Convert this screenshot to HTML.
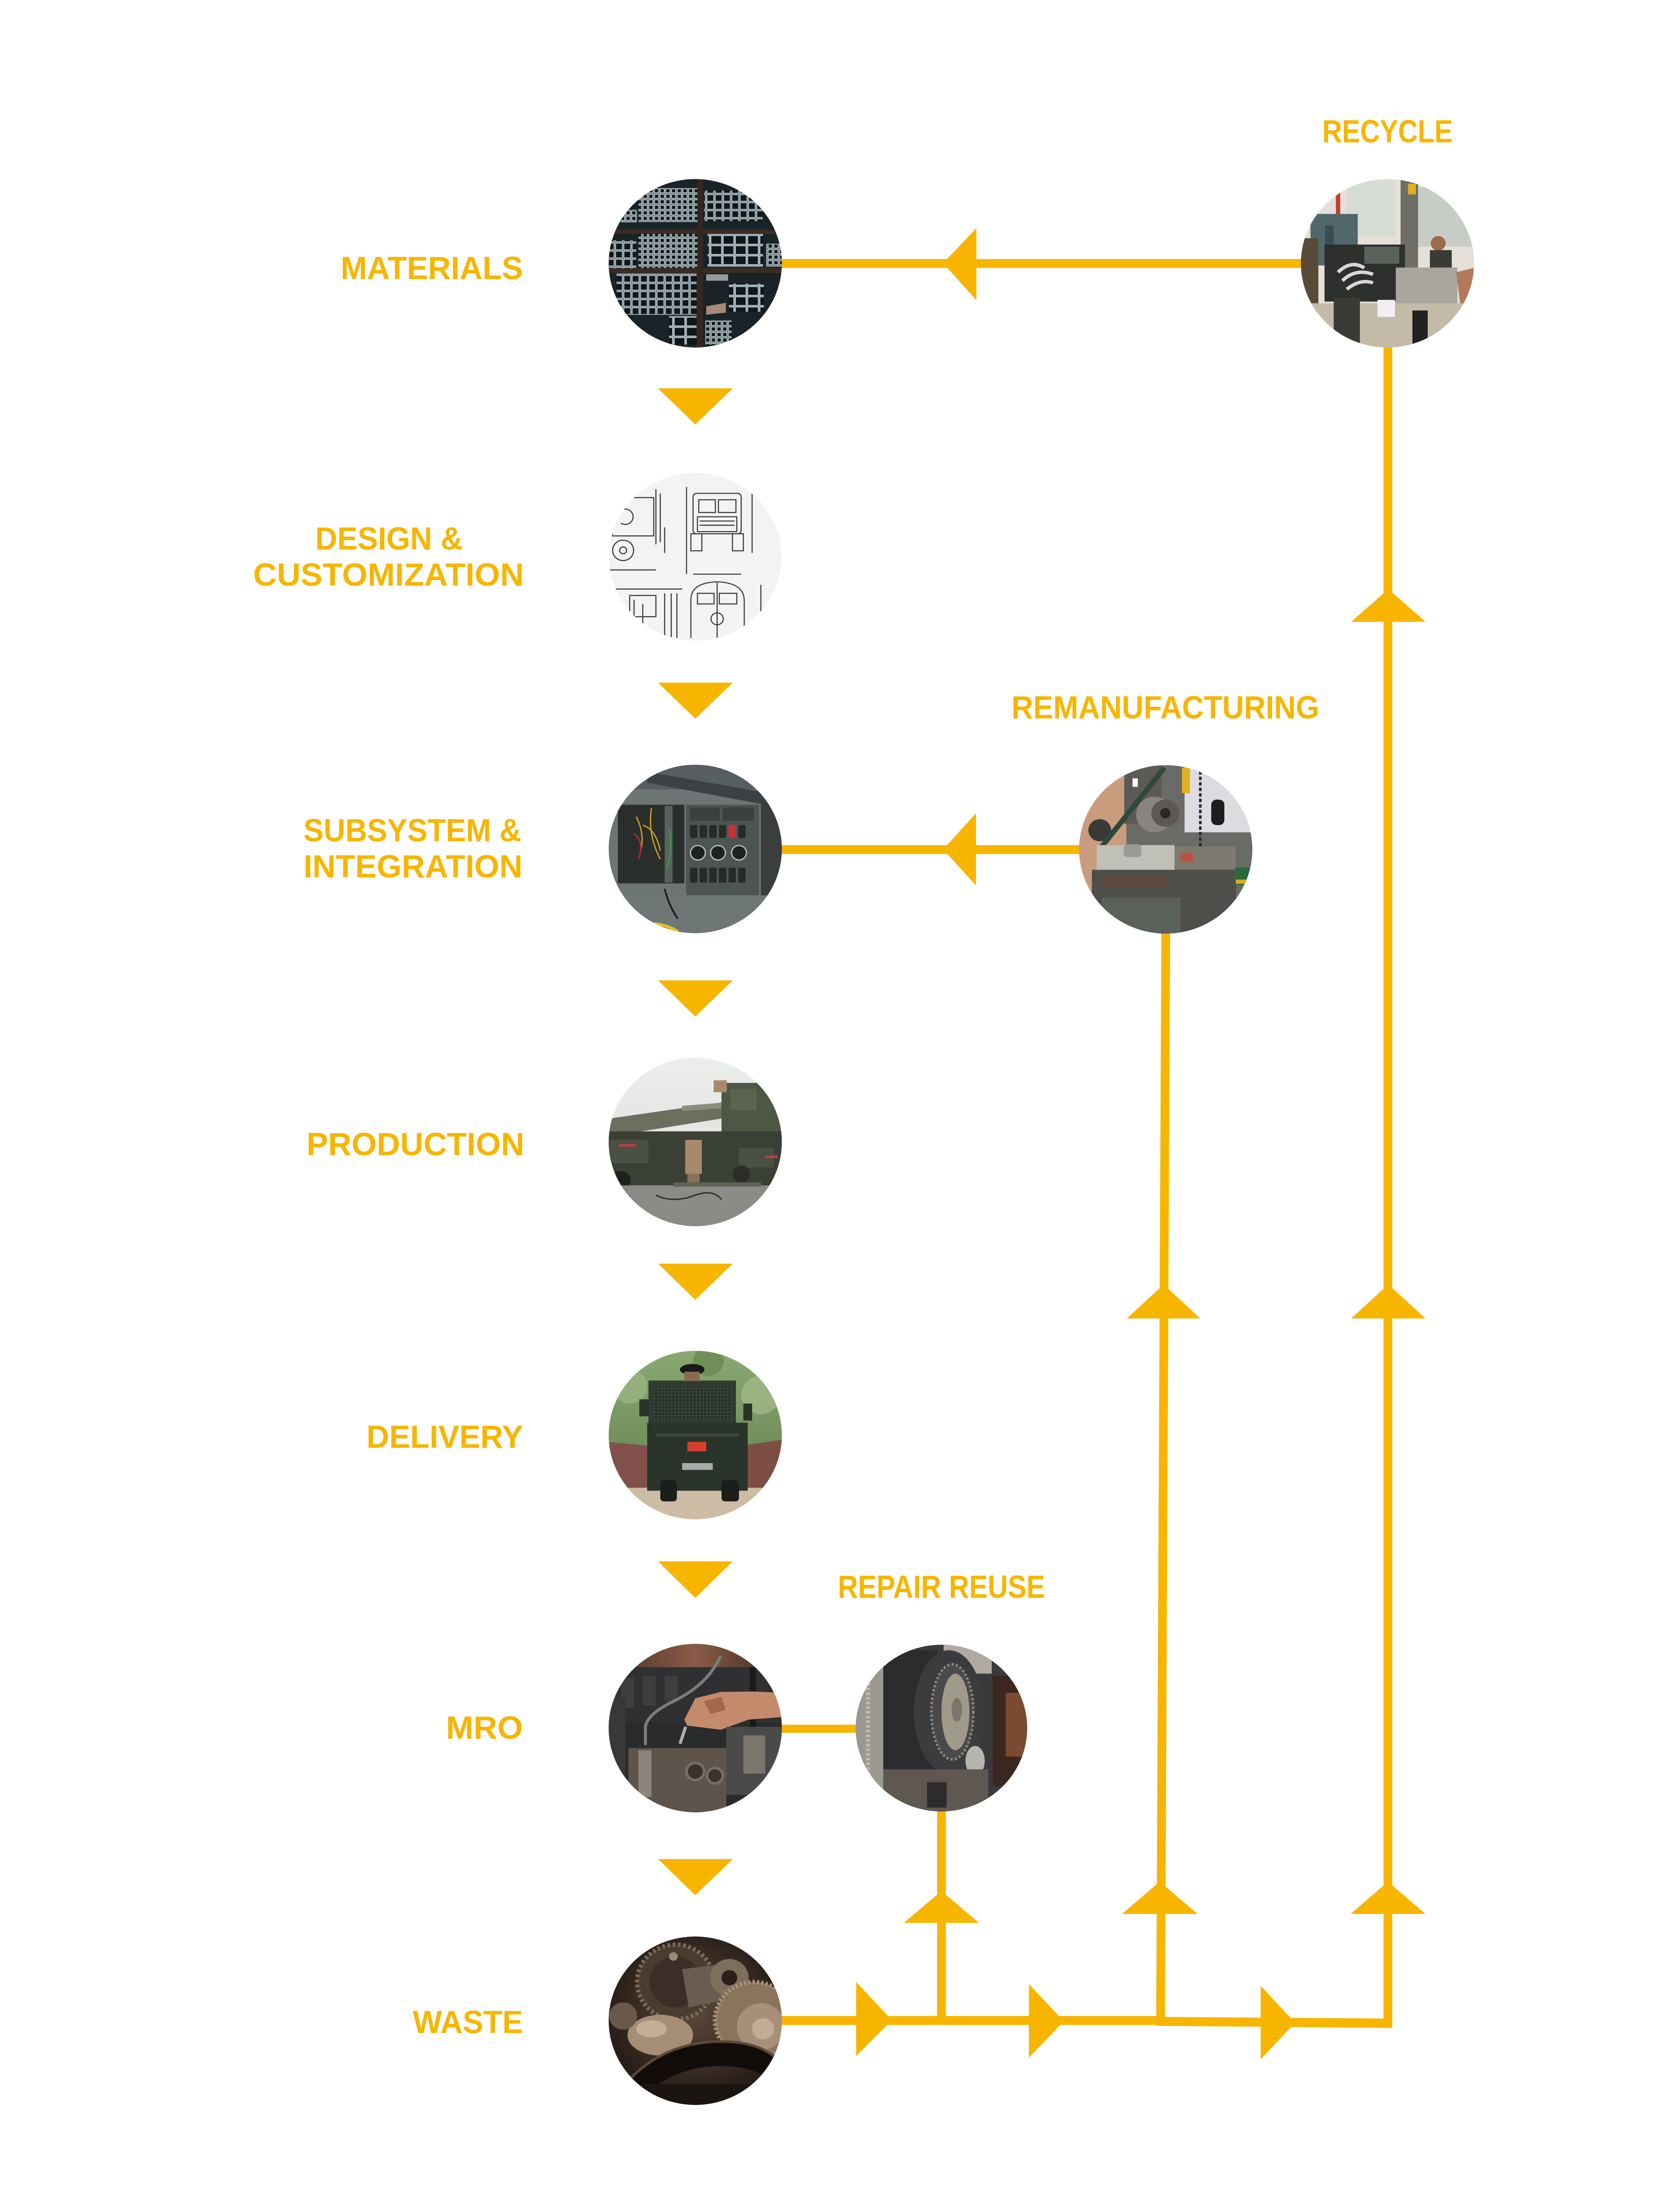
<!DOCTYPE html>
<html>
<head>
<meta charset="utf-8">
<style>
html,body{margin:0;padding:0;background:#fff;width:100%;height:100%;overflow:hidden;}
svg{display:block;position:fixed;left:0;top:0;width:100vw;height:100vh;}
.lb{font-family:"Liberation Sans",Arial,sans-serif;font-weight:700;font-size:75px;fill:#F8B500;}
</style>
</head>
<body>
<svg viewBox="0 0 3842 5142" preserveAspectRatio="none" xmlns="http://www.w3.org/2000/svg">
<defs>
  <clipPath id="k1"><circle cx="1590" cy="619" r="198"/></clipPath>
  <clipPath id="k2"><circle cx="1590" cy="1309" r="197"/></clipPath>
  <clipPath id="k3"><circle cx="1590" cy="1996" r="198"/></clipPath>
  <clipPath id="k4"><circle cx="1590" cy="2685" r="198"/></clipPath>
  <clipPath id="k5"><circle cx="1590" cy="3374" r="198"/></clipPath>
  <clipPath id="k6"><circle cx="1590" cy="4063" r="198"/></clipPath>
  <clipPath id="k7"><circle cx="1590" cy="4751" r="198"/></clipPath>
  <clipPath id="k8"><circle cx="3173" cy="619" r="198"/></clipPath>
  <clipPath id="k9"><circle cx="2666" cy="1997" r="198"/></clipPath>
  <clipPath id="k10"><circle cx="2153" cy="4063" r="196"/></clipPath>

  <pattern id="pS" width="13" height="13" patternUnits="userSpaceOnUse">
    <rect width="13" height="13" fill="#12191c"/>
    <rect x="1.5" y="1.5" width="10" height="10" fill="none" stroke="#bccdd2" stroke-width="2.2"/>
  </pattern>
  <pattern id="pM" width="19" height="19" patternUnits="userSpaceOnUse">
    <rect width="19" height="19" fill="#11181b"/>
    <rect x="1.5" y="1.5" width="16" height="16" fill="none" stroke="#b0c2c8" stroke-width="2.4"/>
  </pattern>
  <pattern id="pL" width="28" height="24" patternUnits="userSpaceOnUse">
    <rect width="28" height="24" fill="#10171a"/>
    <rect x="1.5" y="1.5" width="25" height="21" fill="none" stroke="#b6c8ce" stroke-width="2.6"/>
  </pattern>
  <pattern id="pMesh" width="8" height="8" patternUnits="userSpaceOnUse">
    <rect width="8" height="8" fill="#263026"/>
    <path d="M0 0H8M0 0V8" stroke="#55625a" stroke-width="1.5"/>
  </pattern>
  <radialGradient id="gW" cx="50%" cy="45%" r="60%">
    <stop offset="0" stop-color="#5a4838"/>
    <stop offset="1" stop-color="#1e1612"/>
  </radialGradient>
  <linearGradient id="gSky" x1="0" y1="0" x2="0" y2="1">
    <stop offset="0" stop-color="#eceeec"/>
    <stop offset="1" stop-color="#d8dad6"/>
  </linearGradient>
  <linearGradient id="gFol" x1="0" y1="0" x2="0" y2="1">
    <stop offset="0" stop-color="#8aa872"/>
    <stop offset="1" stop-color="#5c7c4a"/>
  </linearGradient>
  <linearGradient id="gCop" x1="0" y1="0" x2="1" y2="0">
    <stop offset="0" stop-color="#5a3a2e"/>
    <stop offset="0.5" stop-color="#8a5c48"/>
    <stop offset="1" stop-color="#4a3228"/>
  </linearGradient>
</defs>

<rect width="3842" height="5142" fill="#ffffff"/>

<!-- ================= CONNECTORS ================= -->
<g fill="#F8B500">
  <rect x="1785" y="609" width="1193" height="21"/>
  <polygon points="2157,619 2233,536 2233,706"/>
  <rect x="1785" y="1987" width="690" height="21"/>
  <polygon points="2157,1997 2232,1912 2232,2082"/>
  <rect x="1785" y="4055" width="176" height="19"/>

  <rect x="3164" y="812" width="20" height="3956"/>
  <polygon points="3175,1385 3090,1462 3260,1462"/>
  <polygon points="3175,3020 3090,3100 3260,3100"/>
  <polygon points="3174,4424 3089,4500 3260,4500"/>

  <polygon points="2656,2190 2676,2190 2664,4762 2644,4762"/>
  <polygon points="2661,3020 2577,3100 2745,3100"/>
  <polygon points="2652,4424 2566,4500 2739,4500"/>

  <rect x="2143" y="4255" width="20" height="497"/>
  <polygon points="2153,4446 2067,4521 2239,4521"/>

  <rect x="1785" y="4740" width="869" height="21"/>
  <polygon points="2644,4742 3184,4746 3184,4768 2644,4763"/>
  <polygon points="1958,4660 2040,4750 1958,4834"/>
  <polygon points="2353,4665 2433,4752 2353,4838"/>
  <polygon points="2883,4669 2962,4756 2883,4842"/>

  <polygon points="1505,913 1676,913 1590,998"/>
  <polygon points="1505,1605 1676,1605 1590,1690"/>
  <polygon points="1505,2305 1676,2305 1590,2390"/>
  <polygon points="1505,2971 1676,2971 1590,3056"/>
  <polygon points="1505,3671 1676,3671 1590,3757"/>
  <polygon points="1505,4371 1676,4371 1590,4456"/>
</g>

<!-- ================= LABELS ================= -->
<text class="lb" x="3024" y="335" textLength="298" lengthAdjust="spacingAndGlyphs">RECYCLE</text>
<text class="lb" x="779" y="656" textLength="417" lengthAdjust="spacingAndGlyphs">MATERIALS</text>
<text class="lb" x="721" y="1292" textLength="337" lengthAdjust="spacingAndGlyphs">DESIGN &amp;</text>
<text class="lb" x="579" y="1377" textLength="619" lengthAdjust="spacingAndGlyphs">CUSTOMIZATION</text>
<text class="lb" x="2313" y="1689" textLength="704" lengthAdjust="spacingAndGlyphs">REMANUFACTURING</text>
<text class="lb" x="694" y="1978" textLength="498" lengthAdjust="spacingAndGlyphs">SUBSYSTEM &amp;</text>
<text class="lb" x="694" y="2063" textLength="501" lengthAdjust="spacingAndGlyphs">INTEGRATION</text>
<text class="lb" x="701" y="2716" textLength="498" lengthAdjust="spacingAndGlyphs">PRODUCTION</text>
<text class="lb" x="838" y="3404" textLength="358" lengthAdjust="spacingAndGlyphs">DELIVERY</text>
<text class="lb" x="1916" y="3757" textLength="474" lengthAdjust="spacingAndGlyphs">REPAIR REUSE</text>
<text class="lb" x="1020" y="4088" textLength="176" lengthAdjust="spacingAndGlyphs">MRO</text>
<text class="lb" x="944" y="4780" textLength="252" lengthAdjust="spacingAndGlyphs">WASTE</text>

<!-- ================= 1 MATERIALS ================= -->
<g clip-path="url(#k1)">
  <rect x="1390" y="419" width="400" height="400" fill="#1a2327"/>
  <rect x="1390" y="540" width="400" height="10" fill="#3a2c24"/>
  <rect x="1390" y="630" width="400" height="12" fill="#3a2c24"/>
  <rect x="1594" y="419" width="14" height="400" fill="#33271f"/>
  <rect x="1460" y="442" width="135" height="80" fill="url(#pS)"/>
  <rect x="1610" y="448" width="134" height="72" fill="url(#pM)"/>
  <rect x="1420" y="493" width="37" height="30" fill="url(#pS)"/>
  <rect x="1460" y="550" width="135" height="80" fill="url(#pS)"/>
  <rect x="1393" y="565" width="62" height="66" fill="url(#pM)"/>
  <rect x="1618" y="550" width="127" height="77" fill="url(#pL)"/>
  <rect x="1752" y="573" width="36" height="54" fill="url(#pS)"/>
  <rect x="1410" y="643" width="183" height="97" fill="url(#pM)"/>
  <rect x="1667" y="667" width="80" height="66" fill="url(#pL)"/>
  <rect x="1530" y="743" width="63" height="67" fill="url(#pL)"/>
  <rect x="1613" y="753" width="60" height="57" fill="url(#pS)"/>
  <rect x="1615" y="645" width="50" height="15" fill="#c8d0d0" opacity="0.7"/>
  <polygon points="1615,720 1660,712 1660,735 1615,740" fill="#a88878"/>
</g>

<!-- ================= 2 DESIGN ================= -->
<g clip-path="url(#k2)">
  <rect x="1390" y="1110" width="400" height="400" fill="#f3f3f3"/>
  <g fill="none" stroke="#3a3a3a" stroke-width="2.5">
    <rect x="1585" y="1160" width="110" height="95" rx="8"/>
    <rect x="1598" y="1175" width="38" height="30"/>
    <rect x="1643" y="1175" width="40" height="30"/>
    <rect x="1595" y="1215" width="90" height="35"/>
    <line x1="1600" y1="1225" x2="1680" y2="1225"/>
    <line x1="1600" y1="1235" x2="1680" y2="1235"/>
    <rect x="1580" y="1255" width="25" height="40"/>
    <rect x="1675" y="1255" width="25" height="40"/>
    <line x1="1570" y1="1145" x2="1570" y2="1350"/>
    <line x1="1585" y1="1350" x2="1695" y2="1350"/>
    <line x1="1720" y1="1160" x2="1720" y2="1300"/>
    <path d="M1580,1500 V1410 Q1580,1370 1640,1368 Q1700,1370 1702,1410 V1500"/>
    <rect x="1595" y="1395" width="38" height="25"/>
    <rect x="1645" y="1395" width="40" height="25"/>
    <line x1="1640" y1="1370" x2="1640" y2="1500"/>
    <circle cx="1640" cy="1455" r="14"/>
    <line x1="1740" y1="1375" x2="1740" y2="1470"/>
    <rect x="1400" y="1170" width="95" height="90"/>
    <path d="M1420,1200 a18,18 0 1,1 0,30"/>
    <circle cx="1425" cy="1294" r="24"/>
    <circle cx="1425" cy="1294" r="8"/>
    <line x1="1395" y1="1340" x2="1500" y2="1340"/>
    <line x1="1500" y1="1150" x2="1500" y2="1280"/>
    <line x1="1510" y1="1160" x2="1510" y2="1275"/>
    <line x1="1520" y1="1240" x2="1520" y2="1300"/>
    <rect x="1440" y="1400" width="60" height="50"/>
    <line x1="1450" y1="1410" x2="1450" y2="1500"/>
    <line x1="1470" y1="1420" x2="1470" y2="1500"/>
    <line x1="1520" y1="1395" x2="1520" y2="1500"/>
    <line x1="1535" y1="1395" x2="1535" y2="1500"/>
    <line x1="1548" y1="1395" x2="1548" y2="1500"/>
    <line x1="1400" y1="1385" x2="1560" y2="1385"/>
  </g>
</g>

<!-- ================= 3 SUBSYSTEM ================= -->
<g clip-path="url(#k3)">
  <rect x="1390" y="1796" width="400" height="400" fill="#6c7573"/>
  <rect x="1390" y="1796" width="400" height="60" fill="#565e62"/>
  <polygon points="1480,1815 1790,1870 1790,1900 1480,1840" fill="#3c4244"/>
  <rect x="1413" y="1892" width="152" height="185" fill="#2a2e2c"/>
  <rect x="1520" y="1895" width="18" height="180" fill="#5a6260"/>
  <path d="M1455,1920 q20,40 10,80 M1490,1900 q-10,60 20,120 M1470,1940 q30,10 40,60" fill="none" stroke="#c9a020" stroke-width="3"/>
  <path d="M1450,1960 q25,20 10,60" fill="none" stroke="#b03030" stroke-width="3"/>
  <path d="M1530,1950 q10,40 -5,90" fill="none" stroke="#3a9a40" stroke-width="3"/>
  <rect x="1569" y="1892" width="167" height="213" fill="#4d5553"/>
  <rect x="1578" y="1898" width="68" height="32" fill="#3a403f"/>
  <rect x="1652" y="1898" width="72" height="32" fill="#3a403f"/>
  <g fill="#262a29">
    <rect x="1578" y="1940" width="17" height="30" rx="3"/>
    <rect x="1600" y="1940" width="17" height="30" rx="3"/>
    <rect x="1622" y="1940" width="17" height="30" rx="3"/>
    <rect x="1644" y="1940" width="17" height="30" rx="3"/>
    <rect x="1688" y="1940" width="17" height="30" rx="3"/>
    <rect x="1578" y="2040" width="17" height="35" rx="3"/>
    <rect x="1600" y="2040" width="17" height="35" rx="3"/>
    <rect x="1622" y="2040" width="17" height="35" rx="3"/>
    <rect x="1644" y="2040" width="17" height="35" rx="3"/>
    <rect x="1666" y="2040" width="17" height="35" rx="3"/>
    <rect x="1688" y="2040" width="17" height="35" rx="3"/>
  </g>
  <rect x="1666" y="1940" width="17" height="30" rx="3" fill="#c83030"/>
  <g fill="#1e2221" stroke="#b8bcbc" stroke-width="3">
    <circle cx="1596" cy="2005" r="17"/>
    <circle cx="1642" cy="2005" r="17"/>
    <circle cx="1690" cy="2005" r="17"/>
  </g>
  <rect x="1740" y="1880" width="50" height="230" fill="#3a3f3e"/>
  <rect x="1390" y="2105" width="400" height="95" fill="#6e7775"/>
  <path d="M1460,2180 q40,-20 90,10" fill="none" stroke="#e8c020" stroke-width="7"/>
  <path d="M1520,2090 q10,40 30,70" fill="none" stroke="#1a1a1a" stroke-width="4"/>
</g>

<!-- ================= 4 PRODUCTION ================= -->
<g clip-path="url(#k4)">
  <rect x="1390" y="2485" width="400" height="400" fill="url(#gSky)"/>
  <polygon points="1393,2630 1650,2592 1650,2630 1393,2672" fill="#6b6f60"/>
  <polygon points="1560,2600 1660,2592 1660,2605 1560,2612" fill="#8a8e7e"/>
  <rect x="1650" y="2546" width="140" height="134" fill="#4e5644"/>
  <rect x="1670" y="2560" width="60" height="50" fill="#5c644f"/>
  <rect x="1390" y="2660" width="400" height="127" fill="#3b4035"/>
  <rect x="1393" y="2680" width="90" height="55" fill="#4a5042"/>
  <rect x="1415" y="2690" width="40" height="6" fill="#b84040"/>
  <rect x="1690" y="2700" width="80" height="45" fill="#4a5042"/>
  <rect x="1750" y="2717" width="28" height="6" fill="#b84040"/>
  <rect x="1567" y="2680" width="38" height="80" fill="#a88a6a"/>
  <rect x="1572" y="2760" width="28" height="30" fill="#8a7058"/>
  <rect x="1632" y="2540" width="30" height="28" fill="#a88a6a"/>
  <circle cx="1420" cy="2775" r="22" fill="#1e211c"/>
  <circle cx="1695" cy="2760" r="20" fill="#2a2e27"/>
  <rect x="1390" y="2787" width="400" height="100" fill="#8a8a86"/>
  <rect x="1540" y="2780" width="200" height="10" fill="#5e6456"/>
  <path d="M1500,2810 q40,20 90,0 q40,-15 60,10" fill="none" stroke="#2a2a2a" stroke-width="3"/>
</g>

<!-- ================= 5 DELIVERY ================= -->
<g clip-path="url(#k5)">
  <rect x="1390" y="3175" width="400" height="400" fill="url(#gFol)"/>
  <circle cx="1440" cy="3260" r="40" fill="#9cb884" opacity="0.7"/>
  <circle cx="1740" cy="3280" r="45" fill="#a4bc8c" opacity="0.7"/>
  <circle cx="1620" cy="3200" r="35" fill="#6a8a52" opacity="0.8"/>
  <polygon points="1390,3390 1490,3400 1500,3545 1390,3545" fill="#82504a"/>
  <polygon points="1690,3400 1790,3385 1790,3545 1680,3545" fill="#7e4e44"/>
  <rect x="1390" y="3498" width="400" height="80" fill="#cdbca4"/>
  <rect x="1483" y="3246" width="200" height="110" fill="#2f3a30"/>
  <rect x="1493" y="3261" width="180" height="78" fill="url(#pMesh)"/>
  <rect x="1480" y="3345" width="230" height="160" fill="#2b342b"/>
  <rect x="1500" y="3370" width="190" height="8" fill="#3c463c"/>
  <rect x="1572" y="3390" width="43" height="22" fill="#d8402e"/>
  <rect x="1560" y="3440" width="70" height="16" fill="#aaaaaa"/>
  <rect x="1462" y="3290" width="22" height="40" fill="#2a332a"/>
  <rect x="1700" y="3300" width="20" height="40" fill="#2a332a"/>
  <ellipse cx="1583" cy="3220" rx="28" ry="13" fill="#1a1a1a"/>
  <rect x="1565" y="3225" width="35" height="22" fill="#8a6a52"/>
  <rect x="1510" y="3480" width="38" height="50" rx="8" fill="#1c1e1c"/>
  <rect x="1650" y="3480" width="40" height="50" rx="8" fill="#1c1e1c"/>
</g>

<!-- ================= 6 MRO ================= -->
<g clip-path="url(#k6)">
  <rect x="1390" y="3863" width="400" height="400" fill="#2a2b2c"/>
  <rect x="1430" y="3865" width="320" height="55" fill="url(#gCop)"/>
  <rect x="1390" y="3920" width="400" height="130" fill="#2e3032"/>
  <g fill="#3c3e40">
    <rect x="1420" y="3945" width="30" height="70"/>
    <rect x="1470" y="3940" width="30" height="70"/>
    <rect x="1520" y="3940" width="30" height="60"/>
  </g>
  <path d="M1476,4103 L1476,4060 Q1480,4030 1540,4000 Q1620,3960 1648,3893" fill="none" stroke="#7a7c7e" stroke-width="7"/>
  <rect x="1715" y="3920" width="14" height="150" fill="#1a1a1a"/>
  <polygon points="1565,4043 1590,3993 1648,3978 1724,3977 1790,3980 1790,4037 1712,4043 1648,4067 1571,4057" fill="#c48a6c"/>
  <polygon points="1610,4000 1650,3990 1660,4020 1625,4030" fill="#a0684c"/>
  <line x1="1568" y1="4060" x2="1555" y2="4100" stroke="#b0b0b0" stroke-width="7"/>
  <rect x="1437" y="4110" width="224" height="150" fill="#5e544c"/>
  <circle cx="1590" cy="4165" r="20" fill="#3a322c" stroke="#7a6e64" stroke-width="6"/>
  <circle cx="1635" cy="4175" r="18" fill="#3a322c" stroke="#7a6e64" stroke-width="6"/>
  <rect x="1460" y="4115" width="30" height="110" fill="#8a847c"/>
  <rect x="1661" y="4060" width="130" height="160" fill="#4a4a48"/>
  <rect x="1700" y="4080" width="50" height="90" fill="#7a766e"/>
  <rect x="1390" y="3990" width="40" height="220" fill="#3a3836"/>
</g>

<!-- ================= 7 WASTE ================= -->
<g clip-path="url(#k7)">
  <rect x="1390" y="4551" width="400" height="400" fill="url(#gW)"/>
  <circle cx="1545" cy="4660" r="88" fill="#4a3c30" stroke="#7a6a58" stroke-width="10" stroke-dasharray="6 6"/>
  <circle cx="1545" cy="4660" r="60" fill="#3a2e26"/>
  <polygon points="1560,4630 1670,4615 1690,4695 1575,4720" fill="#6a5c50"/>
  <circle cx="1668" cy="4650" r="44" fill="#7e6e5c"/>
  <circle cx="1668" cy="4650" r="18" fill="#2a201a"/>
  <circle cx="1725" cy="4750" r="90" fill="#8a745c" stroke="#a8927a" stroke-width="10" stroke-dasharray="5 5"/>
  <circle cx="1740" cy="4765" r="55" fill="#a89078"/>
  <circle cx="1745" cy="4770" r="25" fill="#c2ac94"/>
  <ellipse cx="1510" cy="4785" rx="75" ry="48" fill="#a68e76"/>
  <ellipse cx="1490" cy="4770" rx="35" ry="20" fill="#c4ae96"/>
  <circle cx="1425" cy="4740" r="32" fill="#6a5848"/>
  <path d="M1410,4960 Q1500,4830 1650,4830 Q1760,4830 1800,4900" fill="none" stroke="#120d0a" stroke-width="55"/>
  <path d="M1410,4925 Q1500,4800 1650,4800 Q1760,4800 1800,4870" fill="none" stroke="#5a4a3c" stroke-width="6"/>
  <rect x="1390" y="4900" width="400" height="60" fill="#1c1410"/>
  <circle cx="1540" cy="4600" r="10" fill="#9a8a76"/>
</g>

<!-- ================= 8 RECYCLE ================= -->
<g clip-path="url(#k8)">
  <rect x="2973" y="419" width="400" height="400" fill="#e4e0d8"/>
  <rect x="3080" y="425" width="110" height="130" fill="#d4dcd4"/>
  <rect x="3240" y="440" width="130" height="140" fill="#c8ccc6"/>
  <rect x="3055" y="425" width="10" height="150" fill="#c04030"/>
  <rect x="3203" y="423" width="40" height="290" fill="#6e6e66"/>
  <rect x="3220" y="432" width="18" height="25" fill="#e0b020"/>
  <rect x="2997" y="503" width="108" height="121" fill="#50686c"/>
  <rect x="3030" y="530" width="20" height="90" fill="#3a4e52"/>
  <rect x="2975" y="560" width="40" height="180" fill="#5a4a3a"/>
  <rect x="3029" y="575" width="184" height="134" fill="#2e302e"/>
  <path d="M3060,640 q30,-30 60,-10 M3070,660 q30,-30 70,-15 M3080,680 q30,-25 60,-15" fill="none" stroke="#d8d8d8" stroke-width="8"/>
  <rect x="3120" y="580" width="80" height="40" fill="#5a625c"/>
  <circle cx="3289" cy="572" r="17" fill="#9a6a4a"/>
  <rect x="3270" y="588" width="50" height="50" fill="#3a3a38"/>
  <rect x="3192" y="629" width="141" height="102" fill="#aaa69e"/>
  <polygon points="3330,640 3370,630 3370,700 3340,720" fill="#b07a5a"/>
  <rect x="2973" y="713" width="400" height="110" fill="#c4baa8"/>
  <rect x="3230" y="730" width="35" height="90" fill="#222222"/>
  <rect x="3050" y="700" width="60" height="120" fill="#3a3a36"/>
  <rect x="3150" y="705" width="40" height="40" fill="#f0f0f0"/>
</g>

<!-- ================= 9 REMANUFACTURING ================= -->
<g clip-path="url(#k9)">
  <rect x="2466" y="1797" width="400" height="400" fill="#6a6a66"/>
  <rect x="2466" y="1797" width="110" height="360" fill="#c89c7c"/>
  <rect x="2571" y="1797" width="85" height="140" fill="#5c5a56"/>
  <rect x="2590" y="1830" width="12" height="20" fill="#ffffff"/>
  <rect x="2709" y="1797" width="160" height="160" fill="#dcdce0"/>
  <rect x="2703" y="1805" width="18" height="60" fill="#e0b020"/>
  <circle cx="2640" cy="1915" r="42" fill="#8a8480"/>
  <circle cx="2665" cy="1912" r="32" fill="#5e5852"/>
  <circle cx="2665" cy="1912" r="12" fill="#2a2826"/>
  <circle cx="2515" cy="1952" r="26" fill="#3a3a38"/>
  <line x1="2663" y1="1805" x2="2520" y2="1990" stroke="#2e4a3a" stroke-width="12"/>
  <path d="M2745,1800 V2200" stroke="#2a2a2a" stroke-width="6" stroke-dasharray="8 5"/>
  <rect x="2770" y="1880" width="30" height="60" rx="12" fill="#1e1e1e"/>
  <rect x="2508" y="1987" width="178" height="58" fill="#c0c0b8"/>
  <rect x="2570" y="1985" width="40" height="30" rx="8" fill="#9a9a94"/>
  <rect x="2686" y="1990" width="140" height="55" fill="#7e7a70"/>
  <rect x="2497" y="2045" width="330" height="155" fill="#4e4e4a"/>
  <rect x="2520" y="2060" width="150" height="25" fill="#5e4a40"/>
  <rect x="2520" y="2110" width="180" height="90" fill="#5a605a"/>
  <rect x="2824" y="2040" width="40" height="40" fill="#2a6a3a"/>
  <rect x="2826" y="2068" width="30" height="10" fill="#d0b020"/>
  <rect x="2700" y="2005" width="28" height="20" fill="#c05040"/>
</g>

<!-- ================= 10 REPAIR REUSE ================= -->
<g clip-path="url(#k10)">
  <rect x="1955" y="3865" width="400" height="400" fill="#3a3a3c"/>
  <rect x="1955" y="3865" width="65" height="400" fill="#9a9890"/>
  <path d="M1985,3880 V4260" stroke="#bcbab2" stroke-width="10" stroke-dasharray="6 5"/>
  <rect x="2158" y="3865" width="110" height="70" fill="#b0aaa2"/>
  <rect x="2020" y="3880" width="125" height="320" fill="#2c2c2e"/>
  <ellipse cx="2170" cy="4025" rx="80" ry="145" fill="#3c3c3e"/>
  <ellipse cx="2178" cy="4025" rx="48" ry="112" fill="#4a4a4c" stroke="#8a8780" stroke-width="6" stroke-dasharray="5 5"/>
  <ellipse cx="2185" cy="4025" rx="32" ry="90" fill="#a09a88"/>
  <ellipse cx="2188" cy="4020" rx="12" ry="28" fill="#7a766c"/>
  <rect x="2270" y="3940" width="85" height="260" fill="#3a2820"/>
  <rect x="2300" y="3980" width="50" height="150" fill="#7a4a32"/>
  <ellipse cx="2230" cy="4140" rx="22" ry="35" fill="#b6b4ae"/>
  <rect x="2020" y="4160" width="240" height="110" fill="#5e5850"/>
  <rect x="2120" y="4190" width="45" height="60" fill="#2e2c2a"/>
</g>

</svg>
</body>
</html>
